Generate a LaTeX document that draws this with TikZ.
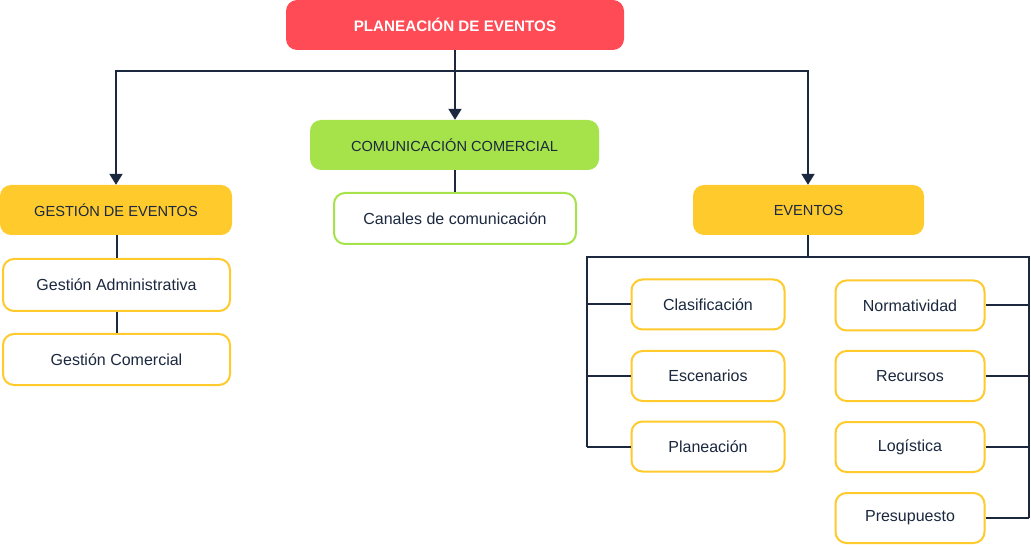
\documentclass[tikz,border=0pt]{standalone}
\usepackage{fontspec}
\setmainfont{Liberation Sans}
\usetikzlibrary{arrows.meta,positioning}
\definecolor{PlanRed}{RGB}{255,75,85}
\definecolor{ComGreen}{RGB}{166,227,74}
\definecolor{EvYellow}{RGB}{255,202,44}
\definecolor{LineNavy}{RGB}{27,40,62}

\begin{document}
\begin{tikzpicture}[x=1pt,y=-1pt,
  head/.style={rounded corners=11pt,inner sep=0pt,align=center,
               font=\fontsize{14.6}{16}\selectfont,text=LineNavy},
  item/.style={draw=EvYellow,line width=2pt,fill=white,rounded corners=11pt,
               inner sep=0pt,align=center,font=\fontsize{16}{18}\selectfont,text=LineNavy},
  link/.style={line width=2pt,LineNavy},
  arr/.style={-{Triangle[length=11pt,width=13pt]},line width=2pt,LineNavy},
]
\useasboundingbox (0,0) rectangle (1031,545);
% main level
\node[head,fill=PlanRed,text=white,font=\fontsize{15.2}{16}\selectfont\bfseries,
  minimum width=338pt,minimum height=50pt] (plan) at (455,25) {PLANEACIÓN DE EVENTOS};
\node[head,fill=ComGreen,minimum width=289pt,minimum height=50pt] (com) at (454.5,145)
  {COMUNICACIÓN COMERCIAL};
\node[head,fill=EvYellow,minimum width=232pt,minimum height=50pt] (gest) at (116,210)
  {GESTIÓN DE EVENTOS};
\node[head,fill=EvYellow,minimum width=231pt,minimum height=50pt] (even) at (808.5,210)
  {EVENTOS};
% children
\node[item,draw=ComGreen,minimum width=242pt,minimum height=51pt] (canal) at (455,218.5)
  {Canales de comunicación};
\node[item,minimum width=227pt,minimum height=52pt] (admin) at (116.5,285)
  {Gestión Administrativa};
\node[item,minimum width=227pt,minimum height=51pt] (comer) at (116.5,359.5)
  {Gestión Comercial};
\node[item,minimum width=153pt,minimum height=50pt] (clas) at (708,304.5) {Clasificación};
\node[item,minimum width=153pt,minimum height=50pt] (esce) at (708,376) {Escenarios};
\node[item,minimum width=153pt,minimum height=50pt] (plane) at (708,446.5) {Planeación};
\node[item,minimum width=149pt,minimum height=50pt] (norm) at (910,305.5) {Normatividad};
\node[item,minimum width=149pt,minimum height=50pt] (recu) at (910,376) {Recursos};
\node[item,minimum width=149pt,minimum height=50pt] (logi) at (910,447) {Logística};
\node[item,minimum width=149pt,minimum height=50pt] (pres) at (910,518) {Presupuesto};
% junctions
\coordinate (bus) at (455,71);
\coordinate (evbus) at (808,257);
\coordinate (lrail) at (587,257);
\coordinate (rrail) at (1029,257);
% connectors
\draw[arr] (plan.south) -- (com.north -| plan.south);
\draw[arr] (bus) -| (gest.north);
\draw[arr] (bus) -| (even.north -| evbus);
\draw[link] (com.south -| canal.north) -- (canal.north);
\draw[link] (gest.south -| admin.north) -- (admin.north);
\draw[link] (admin.south) -- (comer.north);
\draw[link] (even.south -| evbus) -- (evbus);
\draw[link] (plane.west -| lrail) -- (lrail) -- (rrail) -- (pres.east -| rrail);
\foreach \n in {clas,esce,plane}
  \draw[link] (\n.west -| lrail) -- (\n.west);
\foreach \n in {norm,recu,logi,pres}
  \draw[link] (\n.east) -- (\n.east -| rrail);
\end{tikzpicture}
\end{document}
